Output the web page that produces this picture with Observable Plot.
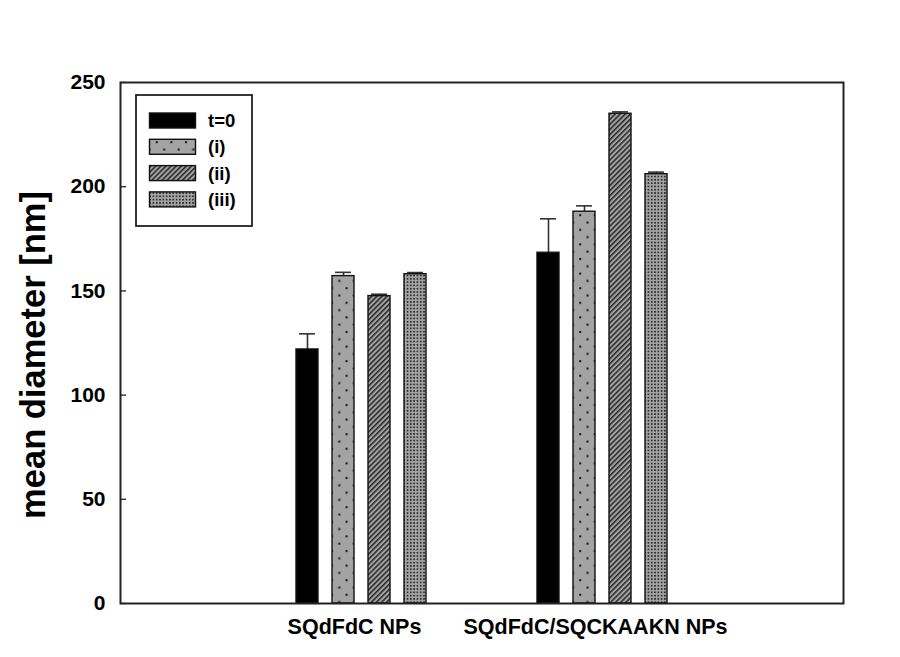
<!DOCTYPE html>
<html>
<head>
<meta charset="utf-8">
<script src="https://cdn.jsdelivr.net/npm/d3@7"></script>
<script src="https://cdn.jsdelivr.net/npm/@observablehq/plot@0.6"></script>
<style>
  html, body { margin: 0; padding: 0; background: #fff; }
  #chart { width: 900px; height: 657px; position: relative; }
  svg { font-family: "Liberation Sans", Arial, sans-serif; }
</style>
</head>
<body>
<div id="chart"></div>
<script>
// ---- data ----
const groups = ["SQdFdC NPs", "SQdFdC/SQCKAAKN NPs"];
const series = ["t=0", "(i)", "(ii)", "(iii)"];
const meanT0 = [121.9, 168.3];
const errT0 = [7.5, 16.3];
const meanI = [157.1, 188.0];
const errI = [1.8, 2.8];
const meanII = [147.5, 235.0];
const errII = [0.9, 0.9];
const meanIII = [158.0, 206.0];
const errIII = [0.8, 1.0];
const yTicks = [0, 50, 100, 150, 200, 250];

const means = [meanT0, meanI, meanII, meanIII];
const errs = [errT0, errI, errII, errIII];
const fills = ["#000000", "url(#pat-i)", "url(#pat-ii)", "url(#pat-iii)"];

const rows = [];
groups.forEach((g, gi) => {
  series.forEach((s, si) => {
    rows.push({group: g, gi: gi + 1, series: s, si, mean: means[si][gi], err: errs[si][gi]});
  });
});

// layout within a group (in x-scale units)
const slot = 0.1494;
const barW = 0.0913;
const capHalf = 0.033;
const cx = d => d.gi + (d.si - 1.5) * slot;

const W = 900, H = 657;
const chart = Plot.plot({
  width: W,
  height: H,
  marginLeft: 120,
  marginRight: 57,
  marginTop: 82,
  marginBottom: 54,
  style: {fontFamily: '"Liberation Sans", Arial, sans-serif', fontWeight: "bold", background: "#fff"},
  x: {domain: [0, 3], axis: null},
  y: {domain: [0, 250], axis: null},
  color: {type: "identity"},
  marks: [
    // error whiskers (upper only)
    Plot.ruleX(rows, {x: cx, y1: d => d.mean, y2: d => d.mean + d.err, stroke: "#333", strokeWidth: 1.6}),
    Plot.ruleY(rows, {y: d => d.mean + d.err, x1: d => cx(d) - capHalf, x2: d => cx(d) + capHalf, stroke: "#333", strokeWidth: 1.6}),
    // bars
    Plot.rectY(rows, {
      x1: d => cx(d) - barW / 2,
      x2: d => cx(d) + barW / 2,
      y1: 0,
      y2: d => d.mean,
      fill: d => fills[d.si],
      stroke: "#111",
      strokeWidth: 1.4
    }),
    // y ticks (inward)
    Plot.tickY(yTicks, {y: d => d, stroke: "#222", strokeWidth: 1.3, insetRight: 723 - 6}),
    Plot.frame({stroke: "#222", strokeWidth: 2}),
    // y tick labels
    Plot.text(yTicks, {y: d => d, text: d => String(d), frameAnchor: "left", textAnchor: "end", dx: -15, fontSize: 21, fontWeight: "bold", fill: "#000"}),
    // x category labels
    Plot.text(groups, {x: (d, i) => i + 1, text: d => d, frameAnchor: "bottom", dy: 30, dx: -7, fontSize: 21.5, fontWeight: "bold", fill: "#000"})
  ]
});

const svg = d3.select(chart);
const defs = svg.insert("defs", ":first-child");
const gray = "#a3a3a3";
// (i) sparse staggered dots
const p1 = defs.append("pattern").attr("id", "pat-i").attr("patternUnits", "userSpaceOnUse")
  .attr("width", 14.6).attr("height", 14.6);
p1.append("rect").attr("width", 14.6).attr("height", 14.6).attr("fill", gray);
p1.append("rect").attr("x", 2.5).attr("y", 2.5).attr("width", 2).attr("height", 2).attr("fill", "#111");
p1.append("rect").attr("x", 9.8).attr("y", 9.8).attr("width", 2).attr("height", 2).attr("fill", "#111");
// (ii) diagonal hatch
const p2 = defs.append("pattern").attr("id", "pat-ii").attr("patternUnits", "userSpaceOnUse")
  .attr("width", 3.6).attr("height", 3.6).attr("patternTransform", "rotate(45)");
p2.append("rect").attr("width", 3.6).attr("height", 3.6).attr("fill", gray);
p2.append("line").attr("x1", 0.8).attr("y1", 0).attr("x2", 0.8).attr("y2", 3.6).attr("stroke", "#111").attr("stroke-width", 1.3);
// (iii) dense dot grid
const p3 = defs.append("pattern").attr("id", "pat-iii").attr("patternUnits", "userSpaceOnUse")
  .attr("width", 3.3).attr("height", 3.3);
p3.append("rect").attr("width", 3.3).attr("height", 3.3).attr("fill", gray);
p3.append("rect").attr("x", 0.8).attr("y", 0.8).attr("width", 1.6).attr("height", 1.6).attr("fill", "#222");

// y axis title
svg.append("text")
  .attr("transform", "translate(45,355) rotate(-90)")
  .attr("text-anchor", "middle")
  .attr("font-size", 34.5)
  .attr("font-weight", "bold")
  .attr("fill", "#000")
  .text("mean diameter [nm]");

// legend (inside the frame)
const lg = svg.append("g").attr("class", "legend");
lg.append("rect").attr("x", 136).attr("y", 95).attr("width", 116).attr("height", 131)
  .attr("fill", "#fff").attr("stroke", "#222").attr("stroke-width", 1.8);
series.forEach((s, i) => {
  const y = 113 + i * 26.3;
  lg.append("rect").attr("x", 149.5).attr("y", y).attr("width", 46).attr("height", 15)
    .attr("fill", fills[i]).attr("stroke", "#111").attr("stroke-width", 1.4);
  lg.append("text").attr("x", 208).attr("y", y + 14)
    .attr("text-anchor", "start")
    .attr("font-size", 18.5).attr("font-weight", "bold").attr("fill", "#000").text(s);
});

document.getElementById("chart").appendChild(chart);
</script>
</body>
</html>
